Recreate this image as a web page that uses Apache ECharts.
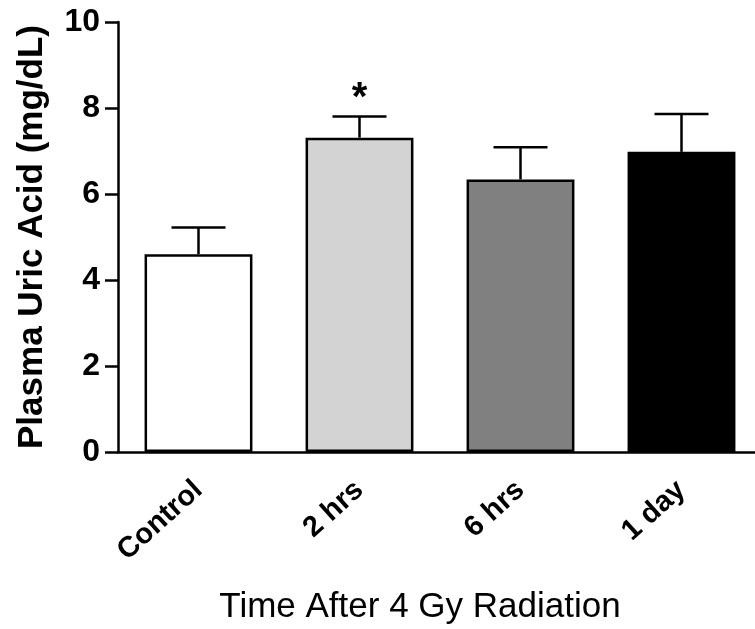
<!DOCTYPE html>
<html>
<head>
    <meta charset="utf-8">
    <title>Plasma Uric Acid</title>
    <script src="https://cdn.jsdelivr.net/npm/echarts@6/dist/echarts.min.js"></script>
</head>
<body style="margin:0;background:#fff;">

    <div id="chart" style="width: 755px;height:629px;"></div>

    <script type="text/javascript">
        // data
        var categories = ['Control', '2 hrs', '6 hrs', '1 day'];
        var means = [4.6, 7.31, 6.34, 6.98];
        var errTop = [5.22, 7.8, 7.09, 7.86];
        var signif = ['', '*', '', ''];
        var barColors = ['#ffffff', '#d3d3d3', '#808080', '#000000'];
        var yTicks = [0, 2, 4, 6, 8, 10];

        var font = 'Liberation Sans, Arial, sans-serif';
        var chart = echarts.init(document.getElementById('chart'));

        var barData = means.map(function (v, i) {
            return { value: v, itemStyle: { color: barColors[i] } };
        });
        var errData = means.map(function (v, i) {
            return [i, v, errTop[i], signif[i]];
        });

        chart.setOption({
            animation: false,
            grid: { left: 118, right: -7, top: 22, bottom: 177, outerBoundsMode: 'none', containLabel: false },
            xAxis: {
                type: 'category',
                data: categories,
                name: 'Time After 4 Gy Radiation',
                nameLocation: 'middle',
                nameGap: 138,
                nameTextStyle: { fontFamily: font, fontSize: 35, color: '#000', padding: [0, 40, 0, 0] },
                axisLine: { lineStyle: { color: '#000', width: 2.5 } },
                axisTick: { alignWithLabel: true, length: 12, lineStyle: { color: '#000', width: 2.5 } },
                axisLabel: {
                    rotate: 42, margin: 34, color: '#000',
                    fontFamily: font, fontWeight: 'bold', fontSize: 29
                }
            },
            yAxis: {
                type: 'value',
                min: 0, max: 10, interval: 2,
                name: 'Plasma Uric Acid (mg/dL)',
                nameLocation: 'middle',
                nameGap: 68,
                nameTextStyle: { fontFamily: font, fontWeight: 'bold', fontSize: 35, color: '#000' },
                splitLine: { show: false },
                axisLine: { show: true, lineStyle: { color: '#000', width: 2.5 } },
                axisTick: { show: true, length: 13, lineStyle: { color: '#000', width: 2.5 } },
                axisLabel: {
                    margin: 18, color: '#000',
                    fontFamily: font, fontWeight: 'bold', fontSize: 32,
                    formatter: function (v) { return yTicks.indexOf(v) >= 0 ? String(v) : ''; }
                }
            },
            series: [{
                type: 'bar',
                data: barData,
                barWidth: '67%',
                itemStyle: { borderColor: '#000', borderWidth: 2.5 },
                z: 2
            }, {
                type: 'custom',
                data: errData,
                z: 3,
                renderItem: function (params, api) {
                    var x = api.value(0);
                    var lo = api.coord([x, api.value(1)]);
                    var hi = api.coord([x, api.value(2)]);
                    var cap = 27;
                    var lineStyle = { stroke: '#000', lineWidth: 2.5 };
                    var kids = [
                        { type: 'line', shape: { x1: lo[0], y1: lo[1], x2: hi[0], y2: hi[1] }, style: lineStyle },
                        { type: 'line', shape: { x1: hi[0] - cap, y1: hi[1], x2: hi[0] + cap, y2: hi[1] }, style: lineStyle }
                    ];
                    var mark = api.value(3);
                    if (mark) {
                        kids.push({
                            type: 'text',
                            style: {
                                text: mark, x: hi[0], y: hi[1] + 2,
                                align: 'center', verticalAlign: 'bottom',
                                font: 'bold 40px ' + font, fill: '#000'
                            }
                        });
                    }
                    return { type: 'group', children: kids };
                }
            }]
        });
    </script>
</body>
</html>
